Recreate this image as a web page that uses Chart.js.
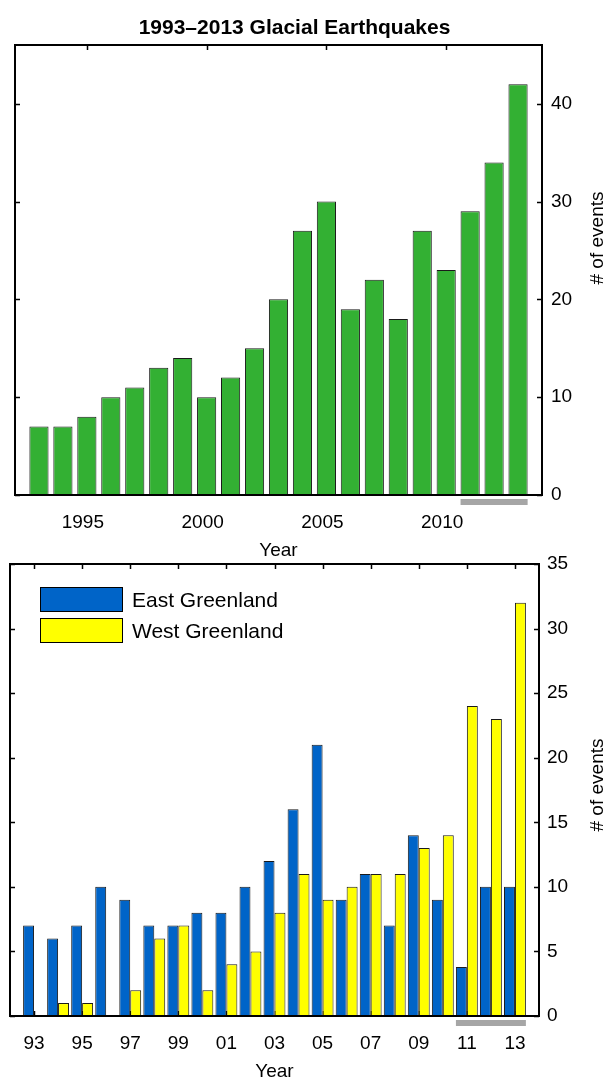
<!DOCTYPE html>
<html>
<head>
<meta charset="utf-8">
<title>Glacial Earthquakes</title>
<script src="https://cdn.jsdelivr.net/npm/chart.js@4.4.0/dist/chart.umd.min.js"></script>
<style>
  html, body { margin: 0; padding: 0; background: #fff; }
  body { width: 608px; height: 1081px; position: relative; overflow: hidden; }
  .panel { position: absolute; left: 0; width: 608px; }
  #totalPanel { top: 0; height: 560px; }
  #regionPanel { top: 540px; height: 541px; }
</style>
</head>
<body>
<div class="panel" id="totalPanel"><canvas id="totalChart"></canvas></div>
<div class="panel" id="regionPanel"><canvas id="regionChart"></canvas></div>
<script>
// yearly counts of glacial earthquakes
const years = [1993, 1994, 1995, 1996, 1997, 1998, 1999, 2000, 2001, 2002, 2003,
               2004, 2005, 2006, 2007, 2008, 2009, 2010, 2011, 2012, 2013];
const totalEvents = [7, 7, 8, 10, 11, 13, 14, 10, 12, 15, 20, 27, 30, 19, 22, 18, 27, 23, 29, 34, 42];
const eastEvents  = [7, 6, 7, 10, 9, 7, 7, 8, 8, 10, 12, 16, 21, 9, 11, 7, 14, 9, 3.8, 10, 10];
const westEvents  = [0, 1, 1, 0, 2, 6, 7, 2, 4, 5, 8, 11, 9, 10, 11, 11, 13, 14, 24, 23, 32];

const totalYearTicks  = [1995, 2000, 2005, 2010];
const regionYearTicks = [1993, 1995, 1997, 1999, 2001, 2003, 2005, 2007, 2009, 2011, 2013];
const totalCountTicks  = [0, 10, 20, 30, 40];
const regionCountTicks = [0, 5, 10, 15, 20, 25, 30, 35];
const highlightYears = [2011, 2012, 2013];

const FONT = '"Liberation Sans", Arial, Helvetica, sans-serif';
Chart.defaults.font.family = FONT;
Chart.defaults.font.size = 19;
Chart.defaults.color = '#000';

const toPoints = (vals) => vals.map((v, i) => ({ x: years[i], y: v }));

// inward tick marks, drawn under the bars
const innerTicks = {
  id: 'innerTicks',
  beforeDatasetsDraw(chart) {
    const { ctx, chartArea: a, scales: { x, y } } = chart;
    const len = 5;
    ctx.save();
    ctx.strokeStyle = '#000';
    ctx.lineWidth = 1.5;
    ctx.beginPath();
    x.ticks.forEach(t => {
      const px = Math.round(x.getPixelForValue(t.value)) + 0.5;
      ctx.moveTo(px, a.top); ctx.lineTo(px, a.top + len);
      ctx.moveTo(px, a.bottom); ctx.lineTo(px, a.bottom - len);
    });
    y.ticks.forEach(t => {
      const py = Math.round(y.getPixelForValue(t.value)) + 0.5;
      ctx.moveTo(a.left, py); ctx.lineTo(a.left + len, py);
      ctx.moveTo(a.right, py); ctx.lineTo(a.right - len, py);
    });
    ctx.stroke();
    ctx.restore();
  }
};

// axes box, grey bar under the last years, title, rotated y label, legend
const frame = {
  id: 'frame',
  afterDatasetsDraw(chart, args, opts) {
    const { ctx, chartArea: a } = chart;
    ctx.save();
    ctx.strokeStyle = '#000';
    ctx.lineWidth = 2;
    ctx.strokeRect(a.left, a.top, a.right - a.left, a.bottom - a.top);

    // span of the highlighted bars
    let lo = Infinity, hi = -Infinity;
    chart.data.datasets.forEach((ds, di) => {
      chart.getDatasetMeta(di).data.forEach((bar, i) => {
        if (highlightYears.includes(years[i])) {
          lo = Math.min(lo, bar.x - bar.width / 2);
          hi = Math.max(hi, bar.x + bar.width / 2);
        }
      });
    });
    ctx.fillStyle = '#a6a6a6';
    ctx.fillRect(lo, a.bottom + 4, hi - lo, 6);

    ctx.fillStyle = '#000';
    if (opts.title) {
      ctx.font = 'bold 21px ' + FONT;
      ctx.textAlign = 'center';
      ctx.textBaseline = 'alphabetic';
      ctx.fillText(opts.title, (a.left + a.right) / 2 + 16, a.top - 11);
    }

    // y label reads bottom to top
    ctx.font = '19px ' + FONT;
    ctx.textAlign = 'center';
    ctx.textBaseline = 'middle';
    ctx.translate(chart.width - opts.titleInset, (a.top + a.bottom) / 2 + opts.titleShift);
    ctx.rotate(-Math.PI / 2);
    ctx.fillText(opts.yTitle, 0, 0);
    ctx.restore();

    if (opts.legend) {
      ctx.save();
      ctx.font = '21px ' + FONT;
      ctx.textBaseline = 'middle';
      const bx = a.left + 30, bw = 82, bh = 24;
      chart.data.datasets.forEach((ds, i) => {
        const by = a.top + 23 + i * 31;
        ctx.fillStyle = ds.backgroundColor;
        ctx.fillRect(bx, by, bw, bh);
        ctx.strokeStyle = '#000';
        ctx.lineWidth = 1;
        ctx.strokeRect(bx + 0.5, by + 0.5, bw, bh);
        ctx.fillStyle = '#000';
        ctx.fillText(ds.label, bx + bw + 10, by + bh / 2 + 2);
      });
      ctx.restore();
    }
  }
};

function yearAxis(tickList, fmt, shift) {
  return {
    type: 'linear',
    min: 1992,
    max: 2014,
    offset: false,
    grid: { display: false, drawTicks: false, offset: false },
    border: { display: false },
    afterBuildTicks: (s) => { s.ticks = tickList.map(v => ({ value: v })); },
    afterFit: (s) => { s.height = 65; },
    ticks: { padding: 16, labelOffset: shift, maxRotation: 0, autoSkip: false, callback: fmt },
    title: { display: true, text: 'Year', padding: 0, font: { size: 19, lineHeight: 1 } }
  };
}

function countAxis(max, tickList, width, pad) {
  return {
    type: 'linear',
    position: 'right',
    min: 0,
    max: max,
    grid: { display: false, drawTicks: false },
    border: { display: false },
    afterBuildTicks: (s) => { s.ticks = tickList.map(v => ({ value: v })); },
    afterFit: (s) => { s.width = width; },
    ticks: { padding: pad, callback: (v) => String(v) }
  };
}

new Chart(document.getElementById('totalChart'), {
  type: 'bar',
  data: {
    datasets: [{
      label: 'All events',
      data: toPoints(totalEvents),
      backgroundColor: '#33b033',
      borderColor: '#1a1a1a',
      borderWidth: 1,
      barPercentage: 0.8,
      categoryPercentage: 1.0
    }]
  },
  options: {
    responsive: true,
    maintainAspectRatio: false,
    animation: false,
    layout: { padding: { left: 15, right: 0, top: 45, bottom: 0 } },
    scales: {
      x: yearAxis(totalYearTicks, (v) => String(v), -4),
      y: countAxis(46, totalCountTicks, 66, 9)
    },
    plugins: {
      legend: { display: false },
      tooltip: { enabled: false },
      frame: {
        title: '1993\u20132013 Glacial Earthquakes',
        yTitle: '# of events', titleInset: 10, titleShift: -32, legend: false
      }
    }
  },
  plugins: [innerTicks, frame]
});

new Chart(document.getElementById('regionChart'), {
  type: 'bar',
  data: {
    datasets: [{
      label: 'East Greenland',
      data: toPoints(eastEvents),
      backgroundColor: '#0064c8',
      borderColor: '#1a1a1a',
      borderWidth: 1,
      barPercentage: 1.0,
      categoryPercentage: 0.91
    }, {
      label: 'West Greenland',
      data: toPoints(westEvents),
      backgroundColor: '#ffff00',
      borderColor: '#1a1a1a',
      borderWidth: 1,
      barPercentage: 1.0,
      categoryPercentage: 0.91
    }]
  },
  options: {
    responsive: true,
    maintainAspectRatio: false,
    animation: false,
    layout: { padding: { left: 10, right: 0, top: 24, bottom: 0 } },
    scales: {
      x: yearAxis(regionYearTicks, (v) => String(v % 100).padStart(2, '0'), 0),
      y: countAxis(35, regionCountTicks, 69, 8)
    },
    plugins: {
      legend: { display: false },
      tooltip: { enabled: false },
      frame: { yTitle: '# of events', titleInset: 10, titleShift: -5, legend: true }
    }
  },
  plugins: [innerTicks, frame]
});
</script>
</body>
</html>
